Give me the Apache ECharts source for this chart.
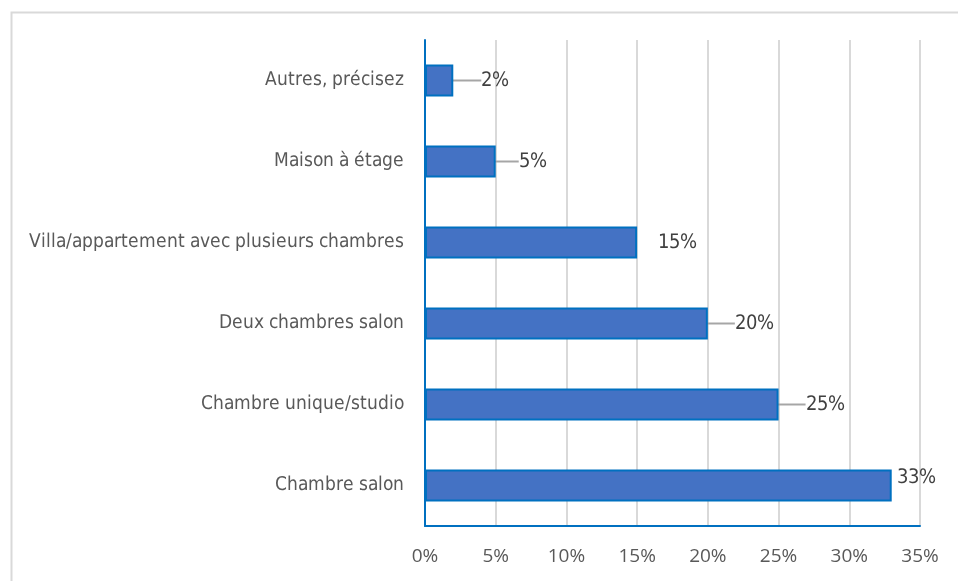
<!DOCTYPE html>
<html>
<head>
<meta charset="utf-8">
<script src="https://cdn.jsdelivr.net/npm/echarts@6/dist/echarts.min.js"></script>
<style>
@font-face { font-family: 'NarrowX'; src: local('Liberation Sans Narrow'), local('LiberationSansNarrow-Regular'), local('Liberation Sans Narrow Regular'), local('DejaVu Sans Condensed'), local('DejaVuSansCondensed'); }
html,body{margin:0;padding:0;background:#fff;}
#c{width:958px;height:581px;}
</style>
</head>
<body>
<div id="c"></div>
<script>
const categories = ["Chambre salon", "Chambre unique/studio", "Deux chambres salon", "Villa/appartement avec plusieurs chambres", "Maison à étage", "Autres, précisez"];
const values = [33, 25, 20, 15, 5, 2];
const tickLabels = ["0%", "5%", "10%", "15%", "20%", "25%", "30%", "35%"];
// label offsets (style): dx, dy, show leader line
const labelShift = [[-8, -8, false], [14, 0, true], [14, 0, true], [8, 0, false], [10, 0, true], [15, 0, true]];

function draw() {
  const chart = echarts.init(document.getElementById('c'));
  const narrow = 'NarrowX, sans-serif';
  chart.setOption({
    animation: false,
    backgroundColor: '#fff',
    graphic: [{
      type: 'rect', left: 9, top: 10,
      shape: { width: 1000, height: 700 },
      style: { fill: 'none', stroke: '#d9d9d9', lineWidth: 2 },
      z: -1
    }],
    grid: { left: 425, right: 38, top: 40, bottom: 55, containLabel: false },
    xAxis: {
      type: 'value', min: 0, max: 35, interval: 5,
      axisLine: { show: true, onZero: false, lineStyle: { color: '#0070c0', width: 2 } },
      axisTick: { show: false },
      splitLine: { show: true, lineStyle: { color: '#d9d9d9', width: 2 } },
      axisLabel: {
        color: '#595959', fontSize: 19, margin: 21,
        fontFamily: '"Open Sans", sans-serif',
        formatter: (v) => tickLabels[Math.round(v / 5)]
      }
    },
    yAxis: {
      type: 'category', data: categories,
      axisLine: { show: true, lineStyle: { color: '#0070c0', width: 2 } },
      axisTick: { show: false },
      axisLabel: { color: '#595959', fontSize: 19, margin: 21, fontFamily: narrow }
    },
    series: [{
      type: 'bar',
      data: values.map((v, i) => ({
        value: v,
        labelLine: { show: labelShift[i][2] }
      })),
      barWidth: 32,
      itemStyle: { color: '#4472c4', borderColor: '#0070c0', borderWidth: 2 },
      label: {
        show: true, position: 'right', distance: 5,
        padding: [0, 0, 0, 8],
        formatter: (p) => p.value + '%',
        color: '#404040', fontSize: 20, fontFamily: narrow
      },
      labelLayout: (p) => ({ dx: labelShift[p.dataIndex][0], dy: labelShift[p.dataIndex][1] }),
      labelLine: { show: true, lineStyle: { color: '#a6a6a6', width: 2 } }
    }]
  });
}
document.fonts.load('20px NarrowX').then(draw, draw);
</script>
</body>
</html>
